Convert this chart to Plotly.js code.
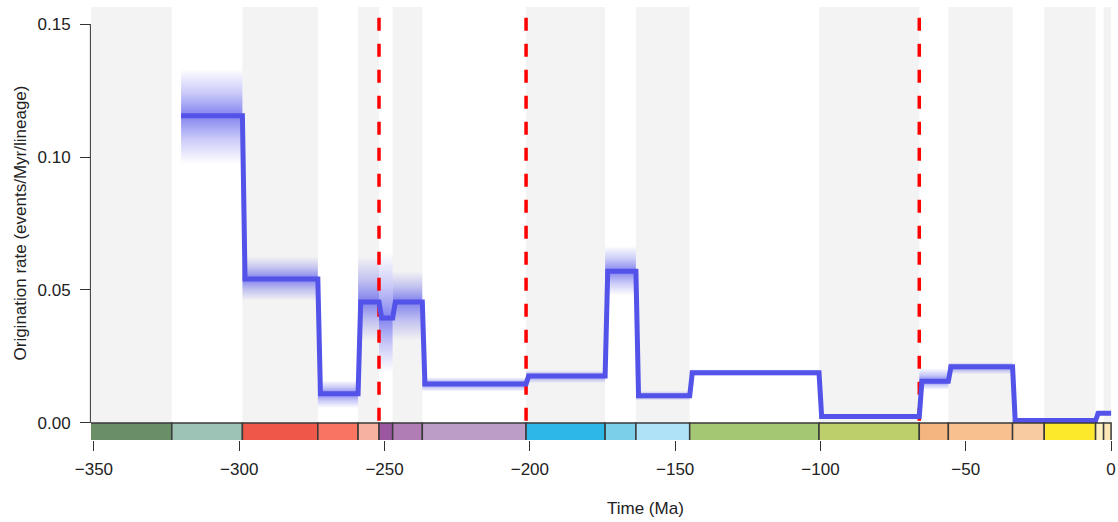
<!DOCTYPE html>
<html>
<head>
<meta charset="utf-8">
<script src="https://cdn.plot.ly/plotly-3.0.1.min.js"></script>
<style>
  html, body { margin: 0; padding: 0; background: #ffffff; }
  #chart { width: 1118px; height: 522px; }
</style>
</head>
<body>
<div id="chart"></div>
<script>
// ---- Rate bins (Ma, negative = before present) ----
const binStart   = [-320, -298.9, -272.95, -259.1, -251.9, -247.2, -237, -201.3, -174.1, -163.5, -145, -100.5, -66, -56, -33.9, -23, -5.333, -2.58];
const binEnd     = [-298.9, -272.95, -259.1, -251.9, -247.2, -237, -201.3, -174.1, -163.5, -145, -100.5, -66, -56, -33.9, -23, -5.333, -2.58, 0];
const rateMedian = [0.1155, 0.0541, 0.0110, 0.0455, 0.0395, 0.0455, 0.0147, 0.0177, 0.0570, 0.0102, 0.0189, 0.0024, 0.0157, 0.0211, 0.0009, 0.0009, 0.0037, 0.0037];
const rateUpper  = [0.1330, 0.0625, 0.0160, 0.0625, 0.0640, 0.0570, 0.0172, 0.0196, 0.0665, 0.0120, 0.0202, 0.0036, 0.0206, 0.0228, 0.0016, 0.0016, 0.0046, 0.0046];
const rateLower  = [0.0975, 0.0460, 0.0056, 0.0310, 0.0190, 0.0310, 0.0118, 0.0150, 0.0480, 0.0085, 0.0176, 0.0013, 0.0125, 0.0183, 0.0003, 0.0003, 0.0028, 0.0028];

// ---- Mass extinction times ----
const extinctionTimes = [-251.9, -201.3, -66];

// ---- Geological time scale ----
const epochNames  = ["Mississippian", "Pennsylvanian", "Cisuralian", "Guadalupian", "Lopingian", "Early Triassic", "Middle Triassic", "Late Triassic", "Early Jurassic", "Middle Jurassic", "Late Jurassic", "Early Cretaceous", "Late Cretaceous", "Paleocene", "Eocene", "Oligocene", "Miocene", "Pliocene", "Pleistocene"];
const epochStart  = [-358.9, -323.2, -298.9, -272.95, -259.1, -251.9, -247.2, -237, -201.3, -174.1, -163.5, -145, -100.5, -66, -56, -33.9, -23, -5.333, -2.58];
const epochEnd    = [-323.2, -298.9, -272.95, -259.1, -251.9, -247.2, -237, -201.3, -174.1, -163.5, -145, -100.5, -66, -56, -33.9, -23, -5.333, -2.58, 0];
const epochColors = ["#6a8f66", "#9cc3b5", "#ef5848", "#f87562", "#f6b1a1", "#9b56a0", "#b17db5", "#bc9dc8", "#2db6e8", "#7ccfe8", "#afe2f6", "#a3c773", "#bccf6a", "#f4b580", "#f7c08e", "#f8cba0", "#fde92b", "#fdf1c3", "#fde8b5"];

// ---- Axis ticks ----
const xTicks = [-350, -300, -250, -200, -150, -100, -50, 0];
const yTicks = [0, 0.05, 0.10, 0.15];
const yTickText = ["0.00", "0.05", "0.10", "0.15"];

// ---- Layout constants ----
const xRange = [-351, 1];
const yRange = [-0.0064, 0.1564];
const blue = "83,83,234";
const FONT = "Liberation Sans, Arial, sans-serif";

const traces = [];

// Uncertainty shading (gradient above and below median for each bin)
for (let i = 0; i < binStart.length; i++) {
  const s = binStart[i], e = binEnd[i], m = rateMedian[i];
  traces.push({
    type: "scatter", mode: "lines", hoverinfo: "skip", showlegend: false,
    x: [s, e, e, s, s], y: [m, m, rateUpper[i], rateUpper[i], m],
    fill: "toself", line: { width: 0, color: "rgba(0,0,0,0)" },
    fillcolor: "rgba(" + blue + ",0.3)",
    fillgradient: { type: "vertical", start: m, stop: rateUpper[i],
      colorscale: [[0, "rgba(" + blue + ",0.72)"], [0.5, "rgba(" + blue + ",0.3)"], [1, "rgba(" + blue + ",0)"]] }
  });
  traces.push({
    type: "scatter", mode: "lines", hoverinfo: "skip", showlegend: false,
    x: [s, e, e, s, s], y: [rateLower[i], rateLower[i], m, m, rateLower[i]],
    fill: "toself", line: { width: 0, color: "rgba(0,0,0,0)" },
    fillcolor: "rgba(" + blue + ",0.3)",
    fillgradient: { type: "vertical", start: rateLower[i], stop: m,
      colorscale: [[0, "rgba(" + blue + ",0)"], [0.5, "rgba(" + blue + ",0.3)"], [1, "rgba(" + blue + ",0.72)"]] }
  });
}

// Mass extinction dashed lines
extinctionTimes.forEach(function (t) {
  traces.push({
    type: "scatter", mode: "lines", hoverinfo: "skip", showlegend: false,
    x: [t, t], y: [0.1524, 0],
    line: { color: "#ff0000", width: 3.5, dash: "13px,13px" }
  });
});

// Median rate step line (short ramp between bins)
const lx = [], ly = [];
for (let i = 0; i < binStart.length; i++) {
  lx.push(i === 0 ? binStart[i] : binStart[i] + 0.9); ly.push(rateMedian[i]);
  lx.push(binEnd[i]); ly.push(rateMedian[i]);
}
traces.push({
  type: "scatter", mode: "lines", hoverinfo: "skip", showlegend: false,
  x: lx, y: ly, line: { color: "rgb(" + blue + ")", width: 5 }
});

// Shapes: alternating grey bands, time-scale boxes, partial y axis line
const shapes = [];
for (let i = 0; i < epochStart.length; i++) {
  if (i % 2 === 0) {
    shapes.push({ type: "rect", layer: "below", xref: "x", yref: "y",
      x0: Math.max(epochStart[i], xRange[0]), x1: epochEnd[i], y0: 0, y1: yRange[1],
      fillcolor: "#f3f3f3", line: { width: 0 } });
  }
}
for (let i = 0; i < epochStart.length; i++) {
  shapes.push({ type: "rect", layer: "above", xref: "x", yref: "y",
    x0: epochStart[i], x1: epochEnd[i], y0: -0.0080, y1: 0,
    fillcolor: epochColors[i], line: { color: "#3a3a3a", width: 1.5 } });
}
shapes.push({ type: "line", layer: "above", xref: "paper", yref: "y",
  x0: -0.0006, x1: -0.0006, y0: 0, y1: 0.15, line: { color: "#333333", width: 1 } });

const layout = {
  width: 1118, height: 522,
  margin: { l: 91, r: 4, t: 7, b: 82, pad: 0 },
  paper_bgcolor: "#ffffff", plot_bgcolor: "#ffffff",
  font: { family: FONT, size: 17, color: "#222222" },
  showlegend: false,
  xaxis: {
    range: xRange, showgrid: false, zeroline: false, showline: false,
    tickmode: "array", tickvals: xTicks,
    ticks: "outside", ticklen: 10, tickwidth: 1, tickcolor: "#333333",
    ticklabelstandoff: 4,
    tickfont: { family: FONT, size: 17, color: "#222222" }
  },
  yaxis: {
    range: yRange, showgrid: false, zeroline: false, showline: false,
    tickmode: "array", tickvals: yTicks, ticktext: yTickText,
    ticks: "outside", ticklen: 10, tickwidth: 1, tickcolor: "#333333",
    ticklabelstandoff: 6,
    tickfont: { family: FONT, size: 17, color: "#222222" }
  },
  shapes: shapes,
  annotations: [
    { text: "Origination rate (events/Myr/lineage)", xref: "paper", yref: "paper",
      x: (20 - 91) / 1023, y: 0.5, xanchor: "center", yanchor: "middle",
      textangle: -90, showarrow: false, font: { family: FONT, size: 17, color: "#222222" } },
    { text: "Time (Ma)", xref: "paper", yref: "paper",
      x: (645 - 91) / 1023, y: (440 - 508) / 433, xanchor: "center", yanchor: "middle",
      showarrow: false, font: { family: FONT, size: 17, color: "#222222" } }
  ]
};

Plotly.newPlot("chart", traces, layout, { staticPlot: true, displayModeBar: false });
</script>
</body>
</html>
